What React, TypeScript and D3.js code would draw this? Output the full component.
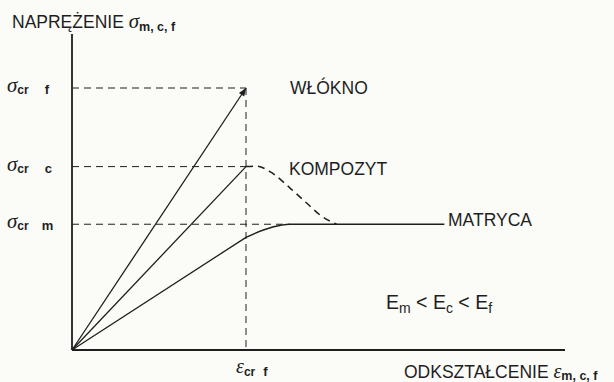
import React from "react";
import * as d3 from "d3";

// Strain (x) and stress (y) in units of the fibre's critical values
const EPS_CR_F = 1;
const SIGMA_LEVELS = [
  { key: "f", value: 1.0 },
  { key: "c", value: 0.7 },
  { key: "m", value: 0.48 },
];

const fibreX = [0, 1];
const fibreY = [0, 1];

const compositeX = [0, 1];
const compositeY = [0, 0.7];
const compositeDropX = [1, 1.06, 1.14, 1.25, 1.35, 1.44, 1.52];
const compositeDropY = [0.7, 0.702, 0.68, 0.62, 0.56, 0.508, 0.481];

const matrixLinX = [0, 1];
const matrixLinY = [0, 0.43];
const matrixCurveX = [1, 1.1, 1.2, 1.25, 2.14];
const matrixCurveY = [0.43, 0.458, 0.476, 0.48, 0.48];

const W = 614;
const H = 382;
const INK = "#1e1e1e";

export default function App() {
  const x = d3.scaleLinear().domain([0, 1]).range([72, 246]);
  const y = d3.scaleLinear().domain([0, 1]).range([350, 88]);

  const zip = (xs: number[], ys: number[]) => xs.map((v, i) => [v, ys[i]] as [number, number]);
  const straight = d3.line<[number, number]>().x(d => x(d[0])).y(d => y(d[1]));
  const smooth = d3
    .line<[number, number]>()
    .x(d => x(d[0]))
    .y(d => y(d[1]))
    .curve(d3.curveMonotoneX);

  const xEnd = 565;
  const yTop = 34;
  const epsX = x(EPS_CR_F);
  const dash = "7,5";

  // arrowhead at the fibre's failure point
  const tipX = x(fibreX[1]);
  const tipY = y(fibreY[1]);
  const ang = Math.atan2(tipY - y(0), tipX - x(0));
  const aL = 8;
  const aW = 3.2;
  const bx = tipX - aL * Math.cos(ang);
  const by = tipY - aL * Math.sin(ang);
  const arrow = `M${tipX},${tipY}L${bx + aW * Math.sin(ang)},${by - aW * Math.cos(ang)}L${bx - aW * Math.sin(ang)},${by + aW * Math.cos(ang)}Z`;

  const font = "'Liberation Sans', Arial, sans-serif";
  const sigmaFont = "'Liberation Serif', 'Times New Roman', serif";
  const fs = 17.5;

  return (
    <svg width={W} height={H} style={{ position: "absolute", left: 0, top: 0, background: "#fbfcf8" }}>
      <rect width={W} height={H} fill="#fbfcf8" />
      {/* axes */}
      <line x1={x(0)} y1={yTop} x2={x(0)} y2={y(0)} stroke={INK} strokeWidth={1.8} />
      <line x1={x(0)} y1={y(0)} x2={xEnd} y2={y(0)} stroke={INK} strokeWidth={1.8} />

      {/* critical stress guides */}
      {SIGMA_LEVELS.map(l => (
        <line
          key={l.key}
          x1={x(0)}
          x2={l.key === "m" ? x(matrixCurveX[3]) : epsX}
          y1={y(l.value)}
          y2={y(l.value)}
          stroke={INK}
          strokeWidth={1}
          strokeDasharray={dash}
        />
      ))}
      {/* critical strain guide */}
      <line x1={epsX} x2={epsX} y1={y(1)} y2={y(0)} stroke={INK} strokeWidth={1} strokeDasharray={dash} />

      {/* curves */}
      <path d={straight(zip(fibreX, fibreY)) || ""} fill="none" stroke={INK} strokeWidth={1.3} />
      <path d={arrow} fill={INK} />
      <path d={straight(zip(compositeX, compositeY)) || ""} fill="none" stroke={INK} strokeWidth={1.3} />
      <path
        d={smooth(zip(compositeDropX, compositeDropY)) || ""}
        fill="none"
        stroke={INK}
        strokeWidth={1.5}
        strokeDasharray="7,5"
      />
      <path d={straight(zip(matrixLinX, matrixLinY)) || ""} fill="none" stroke={INK} strokeWidth={1.3} />
      <path d={smooth(zip(matrixCurveX, matrixCurveY)) || ""} fill="none" stroke={INK} strokeWidth={1.4} />

      {/* y labels */}
      {SIGMA_LEVELS.map(l => (
        <text key={l.key} x={7} y={y(l.value) + 4} fill={INK} fontFamily={font} fontSize={fs}>
          <tspan fontFamily={sigmaFont} fontStyle="italic" fontSize={21}>σ</tspan>
          <tspan fontSize={12} fontWeight="bold" dy={2}>cr</tspan>
          <tspan fontSize={13} fontWeight="bold" dx={l.key === "m" ? 13 : 16} dy={0}>{l.key}</tspan>
        </text>
      ))}

      {/* axis titles */}
      <text x={12} y={28} fill={INK} fontFamily={font} fontSize={fs}>
        NAPRĘŻENIE{" "}
        <tspan fontFamily={sigmaFont} fontStyle="italic" fontSize={21}>σ</tspan>
        <tspan fontSize={12.5} fontWeight="bold" dy={3}>m, c, f</tspan>
      </text>
      <text x={404} y={378} fill={INK} fontFamily={font} fontSize={fs}>
        ODKSZTAŁCENIE{" "}
        <tspan fontFamily={sigmaFont} fontStyle="italic" fontSize={20}>ε</tspan>
        <tspan fontSize={12.5} fontWeight="bold" dy={2}>m, c, f</tspan>
      </text>
      <text x={236} y={373} fill={INK} fontFamily={font} fontSize={fs}>
        <tspan fontFamily={sigmaFont} fontStyle="italic" fontSize={20}>ε</tspan>
        <tspan fontSize={12} fontWeight="bold" dy={3}>cr</tspan>
        <tspan fontSize={13} fontWeight="bold" dx={8}>f</tspan>
      </text>

      {/* curve labels */}
      <text x={290} y={94} fill={INK} fontFamily={font} fontSize={fs}>WŁÓKNO</text>
      <text x={289} y={175} fill={INK} fontFamily={font} fontSize={fs}>KOMPOZYT</text>
      <text x={448} y={226} fill={INK} fontFamily={font} fontSize={fs}>MATRYCA</text>

      {/* moduli relation */}
      <text x={386} y={309} fill={INK} fontFamily={font} fontSize={19.5}>
        E<tspan fontSize={14} dy={4}>m</tspan>
        <tspan dy={-4}> &lt; E</tspan>
        <tspan fontSize={14} dy={4}>c</tspan>
        <tspan dy={-4}> &lt; E</tspan>
        <tspan fontSize={14} dy={4}>f</tspan>
      </text>
    </svg>
  );
}
